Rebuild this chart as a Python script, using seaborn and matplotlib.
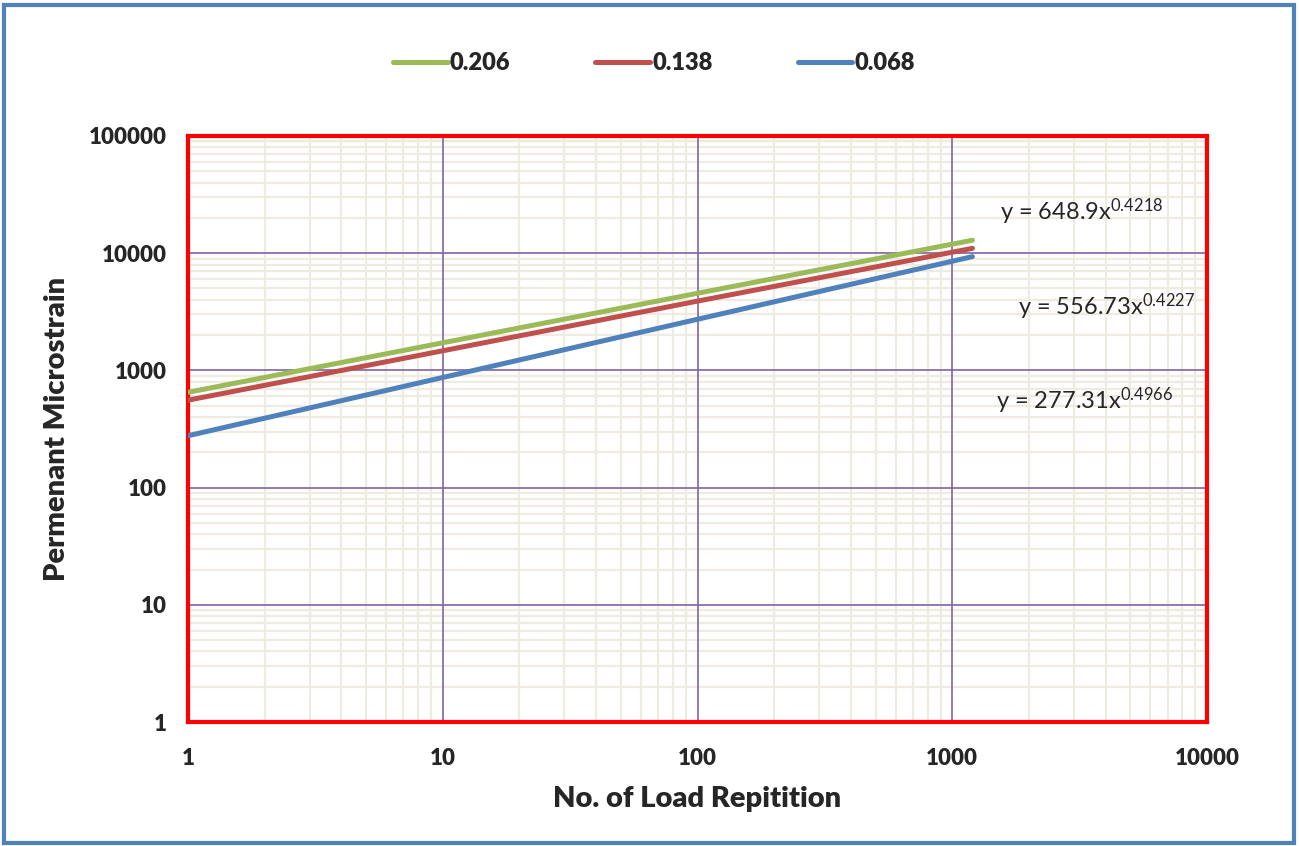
import pandas as pd
import matplotlib
matplotlib.use("Agg")
import matplotlib.pyplot as plt
import matplotlib.ticker as mticker
from matplotlib.patches import Rectangle
import seaborn as sns

# data (x = load repetitions, y = permanent microstrain)
load_reps = [1, 10, 100, 1200]
strain_0206 = [650, 1720, 4550, 12900]
strain_0138 = [557, 1470, 3900, 11000]
strain_0068 = [277, 870, 2730, 9350]
series_names = ["0.206", "0.138", "0.068"]
series_colors = ["#9BBB59", "#C0504D", "#4F81BD"]
equations = ["y = 648.9x$^{0.4218}$", "y = 556.73x$^{0.4227}$", "y = 277.31x$^{0.4966}$"]
x_ticks = [1, 10, 100, 1000, 10000]
y_ticks = [1, 10, 100, 1000, 10000, 100000]

rows = []
for name, vals in zip(series_names, [strain_0206, strain_0138, strain_0068]):
    for x, y in zip(load_reps, vals):
        rows.append({"reps": x, "strain": y, "series": name})
df = pd.DataFrame(rows)

sns.set_style("white")
plt.rcParams["font.family"] = ["Lato", "DejaVu Sans"]
plt.rcParams["mathtext.default"] = "regular"

fig = plt.figure(figsize=(12.99, 8.46), dpi=100)
ax = fig.add_axes([188 / 1299, 1 - 722 / 846, 1019 / 1299, 586 / 846])

sns.lineplot(data=df, x="reps", y="strain", hue="series", hue_order=series_names,
             palette=series_colors, linewidth=3.6, ax=ax, zorder=3)

ax.set_xscale("log")
ax.set_yscale("log")
ax.set_xlim(1, 10000)
ax.set_ylim(1, 100000)

# light minor grid, purple major grid drawn on top of it
ax.xaxis.set_minor_locator(mticker.LogLocator(base=10, subs=range(2, 10), numticks=20))
ax.yaxis.set_minor_locator(mticker.LogLocator(base=10, subs=range(2, 10), numticks=20))
ax.grid(True, which="minor", color="#EEECE1", linewidth=1.6)
ax.grid(False, which="major")
ax.set_axisbelow(True)
for t in x_ticks[1:-1]:
    ax.axvline(t, color="#8064A2", linewidth=1.2, zorder=1.5)
for t in y_ticks[1:-1]:
    ax.axhline(t, color="#8064A2", linewidth=1.2, zorder=1.5)

ax.set_xticks(x_ticks)
ax.set_xticklabels([str(t) for t in x_ticks])
ax.set_yticks(y_ticks)
ax.set_yticklabels([str(t) for t in y_ticks])
ax.tick_params(axis="both", which="major", length=6, width=1.5, color="#808080",
               labelsize=16, direction="out", pad=9)
ax.tick_params(axis="x", which="major", pad=13)
ax.tick_params(axis="both", which="minor", length=0)
for lab in ax.get_xticklabels() + ax.get_yticklabels():
    lab.set_fontweight("heavy")

for s in ax.spines.values():
    s.set_color("#FF0000")
    s.set_linewidth(3)
    s.set_visible(True)

ax.set_xlabel("No. of Load Repitition", fontsize=21, fontweight="heavy", labelpad=12)
ax.set_ylabel("Permenant Microstrain", fontsize=21, fontweight="heavy", labelpad=14)

eq_pos = [(0.797, 0.870), (0.815, 0.708), (0.793, 0.549)]
for txt, (px, py) in zip(equations, eq_pos):
    ax.text(px, py, txt, transform=ax.transAxes, fontsize=17, ha="left", va="center")

ax.legend(loc="center", bbox_to_anchor=(654 / 1299, 1 - 63 / 846), bbox_transform=fig.transFigure,
          ncol=3, frameon=False, prop={"weight": "heavy", "size": 17},
          handlelength=2.3, handletextpad=0.1, columnspacing=3.6)

fig.patches.append(Rectangle((4 / 1299, 3 / 846), 1290 / 1299, 838 / 846,
                             transform=fig.transFigure, fill=False,
                             edgecolor="#4F81BD", linewidth=3))

fig.savefig("out.png", dpi=100)
